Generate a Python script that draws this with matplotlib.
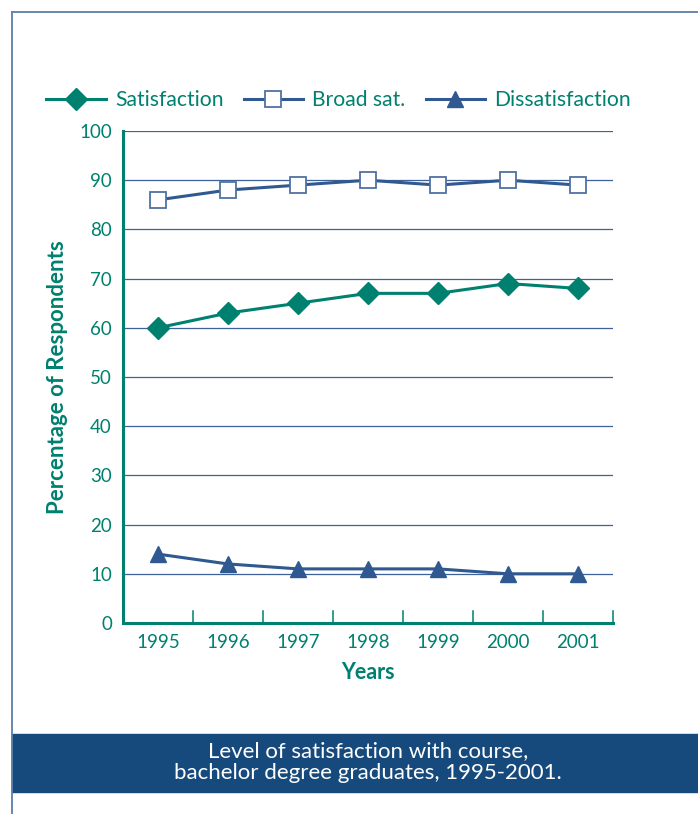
import matplotlib.pyplot as plt
from matplotlib.lines import Line2D
from matplotlib.patches import Rectangle

years = ['1995', '1996', '1997', '1998', '1999', '2000', '2001']
satisfaction = [60, 63, 65, 67, 67, 69, 68]
broad_sat = [86, 88, 89, 90, 89, 90, 89]
dissatisfaction = [14, 12, 11, 11, 11, 10, 10]

teal = '#00806f'
navy = '#2f5990'
grid_col = '#3f6199'
frame_col = '#5b7fa8'
band_col = '#174a7c'

plt.rcParams['font.family'] = ['Lato', 'DejaVu Sans']

fig = plt.figure(figsize=(6.98, 8.14), dpi=100)
ax = fig.add_axes([123 / 698, 1 - 623 / 814, 490 / 698, 492 / 814])

x = list(range(len(years)))
ax.plot(x, broad_sat, color=navy, lw=2.2, marker='s', ms=11.5,
        mfc='white', mec='#4f73a3', mew=1.3, label='Broad sat.', zorder=3)
ax.plot(x, satisfaction, color=teal, lw=2.2, marker='D', ms=11,
        mfc=teal, mec=teal, label='Satisfaction', zorder=3)
ax.plot(x, dissatisfaction, color=navy, lw=2.2, marker='^', ms=12,
        mfc=navy, mec=navy, label='Dissatisfaction', zorder=3)

ax.set_xlim(-0.5, 6.5)
ax.set_ylim(0, 100)
ax.set_yticks(range(0, 101, 10))
ax.set_xticks(x)
ax.set_xticklabels(years)
for y in range(10, 101, 10):
    ax.axhline(y, color=grid_col, lw=0.9, zorder=1)

for side in ['top', 'right']:
    ax.spines[side].set_visible(False)
for side in ['left', 'bottom']:
    ax.spines[side].set_color(teal)
    ax.spines[side].set_linewidth(2.2)

ax.tick_params(axis='both', length=0, labelcolor=teal, labelsize=13.5)
ax.tick_params(axis='y', pad=8)
ax.tick_params(axis='x', pad=8)
# category divider ticks rising from the x axis
for b in [i + 0.5 for i in range(7)]:
    ax.plot([b, b], [0, 2.4], color=teal, lw=1.1, clip_on=False, zorder=2)

ax.set_ylabel('Percentage of Respondents', color=teal, fontsize=16,
              fontweight='bold', labelpad=8)
ax.set_xlabel('Years', color=teal, fontsize=15.5, fontweight='bold', labelpad=8)

handles = [
    Line2D([], [], color=teal, lw=2.2, marker='D', ms=11, mfc=teal, mec=teal),
    Line2D([], [], color=navy, lw=2.2, marker='s', ms=11.5, mfc='white',
           mec='#4f73a3', mew=1.3),
    Line2D([], [], color=navy, lw=2.2, marker='^', ms=12, mfc=navy, mec=navy),
]
leg = fig.legend(handles, ['Satisfaction', 'Broad sat.', 'Dissatisfaction'],
                 loc='center left', bbox_to_anchor=(38 / 698, 1 - 100 / 814),
                 ncol=3, frameon=False, fontsize=15.2, handlelength=2.8,
                 handletextpad=0.45, columnspacing=0.95, borderaxespad=0)
for t in leg.get_texts():
    t.set_color(teal)

# outer frame
fig.add_artist(Line2D([12 / 698, 12 / 698], [0, 1 - 12 / 814],
                      color=frame_col, lw=1.3, transform=fig.transFigure))
fig.add_artist(Line2D([12 / 698, 1], [1 - 12 / 814, 1 - 12 / 814],
                      color=frame_col, lw=1.3, transform=fig.transFigure))

# caption band
fig.add_artist(Rectangle((12 / 698, 1 - 792 / 814), 1 - 12 / 698, 58 / 814,
                         color=band_col, transform=fig.transFigure))
fig.text(368 / 698, 1 - 762 / 814,
         'Level of satisfaction with course,\nbachelor degree graduates, 1995-2001.',
         color='white', fontsize=16, ha='center', va='center', linespacing=1.1)

fig.savefig('out.png', dpi=100)
